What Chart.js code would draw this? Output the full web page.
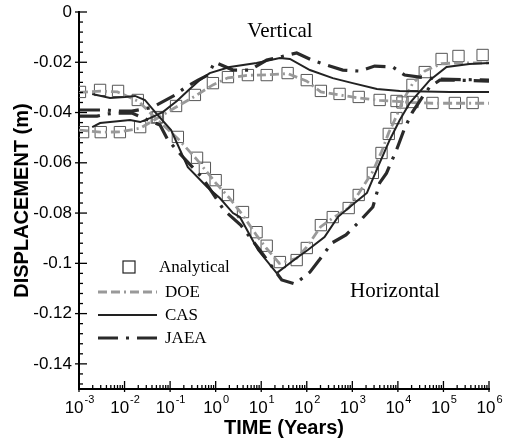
<!DOCTYPE html>
<html>
<head>
<meta charset="utf-8">
<script src="https://cdn.jsdelivr.net/npm/chart.js@4.4.1/dist/chart.umd.min.js"></script>
<style>
    html, body { margin: 0; padding: 0; background: #fff; }
    #wrap { width: 511px; height: 441px; }
</style>
</head>
<body>
<div id="wrap"><canvas id="chart"></canvas></div>
<script>
// ================= DATA =================
const xTicks = [1e-3, 1e-2, 1e-1, 1, 10, 100, 1e3, 1e4, 1e5, 1e6];
const xTickExp = ["-3", "-2", "-1", "0", "1", "2", "3", "4", "5", "6"];
const yTicks = [0, -0.02, -0.04, -0.06, -0.08, -0.1, -0.12, -0.14];
const legendLabels = ["Analytical", "DOE", "CAS", "JAEA"];

// Analytical - horizontal branch
const anaHTime = [1.05e-3, 2.9e-3, 7.2e-3, 0.0195, 0.051, 0.148, 0.39, 0.58, 1.0, 1.86, 3.98, 7.9, 13.2, 25.7, 60, 100, 204, 372, 832, 1380, 2820, 4370, 6310, 9330, 12600, 20900, 38900, 91200, 214000, 724000];
const anaHDisp = [-0.0318, -0.031, -0.0314, -0.035, -0.042, -0.0497, -0.058, -0.062, -0.0669, -0.0728, -0.0796, -0.0876, -0.093, -0.0995, -0.0987, -0.0939, -0.0848, -0.0816, -0.078, -0.0728, -0.064, -0.0561, -0.0485, -0.0422, -0.036, -0.029, -0.0239, -0.0187, -0.0175, -0.0171];
// Analytical - vertical branch
const anaVTime = [1.23e-3, 3.0e-3, 7.9e-3, 0.022, 0.054, 0.135, 0.35, 0.87, 1.86, 5.1, 13.2, 38, 100, 204, 525, 1380, 3980, 9330, 20900, 57500, 178000, 437000];
const anaVDisp = [-0.0478, -0.0478, -0.0478, -0.0458, -0.0418, -0.0374, -0.033, -0.0283, -0.0259, -0.0251, -0.0251, -0.0243, -0.0271, -0.0314, -0.0326, -0.0338, -0.035, -0.0354, -0.0358, -0.0362, -0.0362, -0.0362];

// DOE
const doeHTime = [1e-3, 3e-3, 7e-3, 0.02, 0.05, 0.15, 0.4, 1, 2, 4, 8, 13, 25, 60, 100, 200, 370, 830, 1400, 2800, 4400, 6300, 9300, 12600, 21000, 39000, 91000, 210000, 1e6];
const doeHDisp = [-0.032, -0.0315, -0.0318, -0.0355, -0.0425, -0.0505, -0.059, -0.068, -0.074, -0.081, -0.089, -0.094, -0.1, -0.098, -0.0935, -0.0855, -0.082, -0.078, -0.072, -0.0635, -0.0555, -0.048, -0.0415, -0.0355, -0.0285, -0.0235, -0.0205, -0.0203, -0.0203];
const doeVTime = [1e-3, 3e-3, 8e-3, 0.022, 0.05, 0.13, 0.35, 0.87, 1.86, 5.1, 13, 38, 100, 204, 525, 1380, 3980, 9330, 20900, 57500, 178000, 1e6];
const doeVDisp = [-0.047, -0.0478, -0.0477, -0.0462, -0.0425, -0.038, -0.0335, -0.029, -0.0262, -0.0252, -0.025, -0.0245, -0.0275, -0.0318, -0.033, -0.0342, -0.0352, -0.0356, -0.036, -0.0363, -0.0363, -0.0363];

// CAS
const casHTime = [1.95e-3, 4.8e-3, 0.0102, 0.017, 0.028, 0.049, 0.105, 0.245, 0.65, 1.23, 2.4, 3.4, 8.5, 21.9, 60, 105, 245, 479, 1120, 2090, 3630, 6610, 11000, 18200, 50100, 117000, 372000, 1e6];
const casHDisp = [-0.0326, -0.0342, -0.0338, -0.0334, -0.035, -0.0402, -0.047, -0.0617, -0.0696, -0.074, -0.08, -0.0816, -0.0947, -0.1039, -0.0979, -0.0947, -0.0895, -0.0816, -0.076, -0.072, -0.0617, -0.0509, -0.043, -0.0362, -0.0271, -0.0219, -0.0207, -0.0203];
const casVTime = [1.95e-3, 2.9e-3, 4.8e-3, 0.0132, 0.022, 0.036, 0.069, 0.141, 0.27, 0.45, 0.74, 2.04, 7.9, 25.7, 42.7, 117, 372, 1020, 3470, 11000, 138000, 1e6];
const casVDisp = [-0.0458, -0.0442, -0.0438, -0.043, -0.0438, -0.0422, -0.0398, -0.0354, -0.0306, -0.0271, -0.0243, -0.0219, -0.0203, -0.0183, -0.0187, -0.0231, -0.0263, -0.0283, -0.0306, -0.0314, -0.0318, -0.0318];

// JAEA
const jaeaHTime = [1.05e-3, 2.5e-3, 4.1e-3, 6.2e-3, 0.0145, 0.06, 0.089, 0.174, 0.52, 1.51, 3.55, 9.3, 28.2, 55, 117, 195, 355, 724, 1320, 2820, 3980, 5620, 9330, 14100, 20900, 34700, 50100, 83200, 178000, 1e6];
const jaeaHDisp = [-0.0414, -0.0414, -0.0406, -0.0402, -0.0402, -0.045, -0.0509, -0.0569, -0.0661, -0.0788, -0.0848, -0.0947, -0.1066, -0.1082, -0.1035, -0.0983, -0.0919, -0.0887, -0.084, -0.0776, -0.068, -0.0641, -0.0549, -0.0462, -0.0398, -0.0338, -0.0298, -0.0271, -0.0271, -0.0275];
const jaeaVTime = [1.05e-3, 2.5e-3, 4.1e-3, 6.2e-3, 0.0145, 0.04, 0.129, 0.209, 0.41, 0.68, 0.95, 2.4, 5.6, 13.2, 25.7, 60, 129, 275, 617, 1450, 3090, 7760, 14100, 30200, 83200, 1e6];
const jaeaVDisp = [-0.039, -0.039, -0.039, -0.0394, -0.0394, -0.038, -0.033, -0.0302, -0.0271, -0.0251, -0.0199, -0.0231, -0.0231, -0.0191, -0.0179, -0.0163, -0.0191, -0.0211, -0.0231, -0.0235, -0.0215, -0.0219, -0.0251, -0.0259, -0.0267, -0.0271];

// ================= STYLE =================
const pts = (t, v) => t.map((x, i) => ({ x, y: v[i] }));

const styles = {
    Analytical: { showLine: false, pointStyle: "rect", pointRadius: 8, borderColor: "#555", borderWidth: 1, backgroundColor: "rgba(0,0,0,0)" },
    DOE: { showLine: true, pointRadius: 0, borderColor: "#999", borderWidth: 2.8, borderDash: [9, 4, 9, 4, 2, 4] },
    CAS: { showLine: true, pointRadius: 0, borderColor: "#222", borderWidth: 2 },
    JAEA: { showLine: true, pointRadius: 0, borderColor: "#2a2a2a", borderWidth: 3.2, borderDash: [20, 8, 3, 8] }
};

function ds(name, t, v) {
    return Object.assign({ label: name, data: pts(t, v), tension: 0, fill: false }, styles[name]);
}

const datasets = [
    ds("CAS", casHTime, casHDisp),
    ds("CAS", casVTime, casVDisp),
    ds("JAEA", jaeaHTime, jaeaHDisp),
    ds("JAEA", jaeaVTime, jaeaVDisp),
    ds("DOE", doeHTime, doeHDisp),
    ds("DOE", doeVTime, doeVDisp),
    ds("Analytical", anaHTime, anaHDisp),
    ds("Analytical", anaVTime, anaVDisp)
];

// ================= DECORATION PLUGIN =================
const decor = {
    id: "decor",
    afterDraw(chart) {
        const { ctx, chartArea: a, scales: { x, y } } = chart;
        ctx.save();
        ctx.strokeStyle = "#000";
        ctx.lineWidth = 1.3;

        // inward ticks, left axis
        for (let k = 0; k <= 37; k++) {
            const py = y.getPixelForValue(-k * 0.004);
            const major = k % 5 === 0;
            ctx.beginPath();
            ctx.moveTo(a.left - (major ? 4 : 0), py);
            ctx.lineTo(a.left + (major ? 8 : 4), py);
            ctx.stroke();
        }
        // inward ticks, bottom axis
        xTicks.forEach((t, i) => {
            const px = x.getPixelForValue(t);
            ctx.beginPath();
            ctx.moveTo(px, a.bottom + 3);
            ctx.lineTo(px, a.bottom - 8);
            ctx.stroke();
            if (i < xTicks.length - 1) {
                for (let m = 2; m <= 9; m++) {
                    const mx = x.getPixelForValue(t * m);
                    ctx.beginPath();
                    ctx.moveTo(mx, a.bottom);
                    ctx.lineTo(mx, a.bottom - 4);
                    ctx.stroke();
                }
            }
        });

        // x tick labels: 10 with superscript
        ctx.fillStyle = "#000";
        ctx.textBaseline = "alphabetic";
        xTicks.forEach((t, i) => {
            const px = x.getPixelForValue(t);
            ctx.font = "17px 'Liberation Sans', Arial, sans-serif";
            const wBase = ctx.measureText("10").width;
            ctx.font = "11px 'Liberation Sans', Arial, sans-serif";
            const wExp = ctx.measureText(xTickExp[i]).width;
            const x0 = px - (wBase + wExp) / 2;
            ctx.font = "17px 'Liberation Sans', Arial, sans-serif";
            ctx.textAlign = "left";
            ctx.fillText("10", x0, 413);
            ctx.font = "11px 'Liberation Sans', Arial, sans-serif";
            ctx.fillText(xTickExp[i], x0 + wBase + 1, 403);
        });

        // annotations
        ctx.font = "21px 'Liberation Serif', 'Times New Roman', serif";
        ctx.textAlign = "center";
        ctx.fillText("Vertical", 280, 37);
        ctx.fillText("Horizontal", 395, 297);

        // legend
        const rows = [272, 297, 320, 343];
        ctx.font = "17px 'Liberation Serif', 'Times New Roman', serif";
        ctx.textAlign = "left";
        legendLabels.forEach((name, i) => {
            const s = styles[name];
            const cy = rows[i] - 5;
            if (name === "Analytical") {
                ctx.lineWidth = 1.2;
                ctx.strokeStyle = "#222";
                ctx.setLineDash([]);
                ctx.strokeRect(123, cy - 6, 12, 12);
                ctx.fillText(name, 159, rows[i]);
            } else {
                ctx.lineWidth = s.borderWidth;
                ctx.strokeStyle = s.borderColor;
                ctx.setLineDash(s.borderDash || []);
                ctx.beginPath();
                ctx.moveTo(98, cy);
                ctx.lineTo(157, cy);
                ctx.stroke();
                ctx.fillText(name, 165, rows[i]);
            }
        });
        ctx.restore();
    }
};

// ================= CHART =================
new Chart(document.getElementById("chart"), {
    type: "scatter",
    data: { datasets },
    options: {
        responsive: true,
        maintainAspectRatio: false,
        animation: false,
        layout: { padding: { top: 12, right: 22, left: 0, bottom: 0 } },
        plugins: { legend: { display: false }, tooltip: { enabled: false } },
        scales: {
            x: {
                type: "logarithmic",
                min: 1e-3,
                max: 1e6,
                afterFit: s => { s.height = 52; s.paddingLeft = 0; s.paddingRight = 0; },
                grid: { display: false, drawTicks: false },
                border: { display: true, color: "#000", width: 2 },
                ticks: { display: false },
                title: {
                    display: true,
                    text: "TIME (Years)",
                    color: "#000",
                    font: { family: "'Liberation Sans', Arial, sans-serif", size: 20, weight: "bold" },
                    padding: { top: 0, bottom: 1 }
                }
            },
            y: {
                min: -0.15,
                max: 0,
                afterFit: s => { s.width = 79; s.paddingTop = 0; s.paddingBottom = 0; },
                afterBuildTicks: s => { s.ticks = yTicks.map(v => ({ value: v })); },
                grid: { display: false, drawTicks: false },
                border: { display: true, color: "#000", width: 2 },
                ticks: {
                    color: "#000",
                    padding: 7,
                    font: { family: "'Liberation Sans', Arial, sans-serif", size: 17 },
                    callback: v => String(+Number(v).toFixed(2))
                },
                title: {
                    display: true,
                    text: "DISPLACEMENT (m)",
                    color: "#000",
                    font: { family: "'Liberation Sans', Arial, sans-serif", size: 20, weight: "bold" },
                    padding: { top: 10, bottom: 0 }
                }
            }
        }
    },
    plugins: [decor]
});
</script>
</body>
</html>
